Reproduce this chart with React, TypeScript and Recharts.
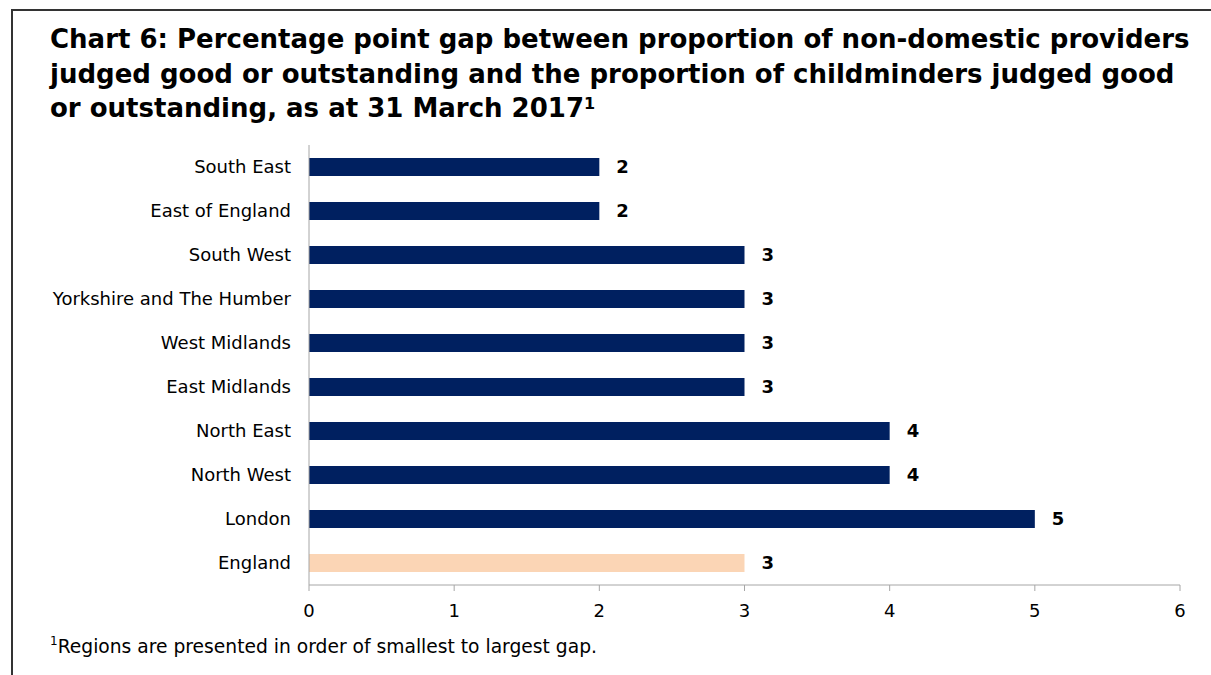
import React from 'react';
import { BarChart, Bar, XAxis, YAxis, Cell, LabelList } from 'recharts';

const regions = [
  'South East',
  'East of England',
  'South West',
  'Yorkshire and The Humber',
  'West Midlands',
  'East Midlands',
  'North East',
  'North West',
  'London',
  'England',
];
const gaps = [2, 2, 3, 3, 3, 3, 4, 4, 5, 3];
const xTicks = [0, 1, 2, 3, 4, 5, 6];

const NAVY = '#002060';
const PEACH = '#FBD5B5';
const FONT = 'Tahoma, "DejaVu Sans", Verdana, sans-serif';

const data = regions.map((r, i) => ({ region: r, gap: gaps[i] }));

export default function App() {
  return (
    <div style={{ position: 'absolute', left: 0, top: 0, width: 1211, height: 675, background: '#fff', overflow: 'hidden', fontFamily: FONT }}>
      <div style={{ position: 'absolute', left: 11, top: 9, width: 1300, height: 800, borderLeft: '2px solid #333', borderTop: '2px solid #333' }} />
      <div style={{ position: 'absolute', left: 50, top: 22, width: 1160, fontWeight: 'bold', fontSize: 26, lineHeight: '34.5px', color: '#000', whiteSpace: 'nowrap' }}>
        Chart 6: Percentage point gap between proportion of non-domestic providers<br />
        judged good or outstanding and the proportion of childminders judged good<br />
        or outstanding, as at 31 March 2017<sup style={{ fontSize: 16, verticalAlign: 'top', position: 'relative', top: -4 }}>1</sup>
      </div>
      <div style={{ position: 'absolute', left: 0, top: 0 }}>
        <BarChart
          width={1211}
          height={675}
          data={data}
          layout="vertical"
          margin={{ top: 145, right: 31, bottom: 60, left: 0 }}
          barSize={18}
        >
          <XAxis
            type="number"
            domain={[0, 6]}
            ticks={xTicks}
            interval={0}
            height={30}
            axisLine={{ stroke: '#a6a6a6' }}
            tickLine={{ stroke: '#a6a6a6' }}
            tickSize={6}
            tickMargin={13}
            tick={{ fill: '#000', fontSize: 18, fontFamily: FONT }}
          />
          <YAxis
            type="category"
            dataKey="region"
            width={309}
            axisLine={{ stroke: '#a6a6a6' }}
            tickLine={false}
            tickSize={8}
            tickMargin={10}
            interval={0}
            tick={{ fill: '#000', fontSize: 18, fontFamily: FONT }}
          />
          <Bar dataKey="gap" isAnimationActive={false}>
            {data.map((d) => (
              <Cell key={d.region} fill={d.region === 'England' ? PEACH : NAVY} />
            ))}
            <LabelList dataKey="gap" position="right" offset={17} style={{ fill: '#000', fontWeight: 'bold', fontSize: 18, fontFamily: FONT }} />
          </Bar>
        </BarChart>
      </div>
      <div style={{ position: 'absolute', left: 50, top: 636, fontSize: 18.7, color: '#000', whiteSpace: 'nowrap' }}>
        <sup style={{ fontSize: 12, verticalAlign: 'top', position: 'relative', top: -2 }}>1</sup>Regions are presented in order of smallest to largest gap.
      </div>
    </div>
  );
}
